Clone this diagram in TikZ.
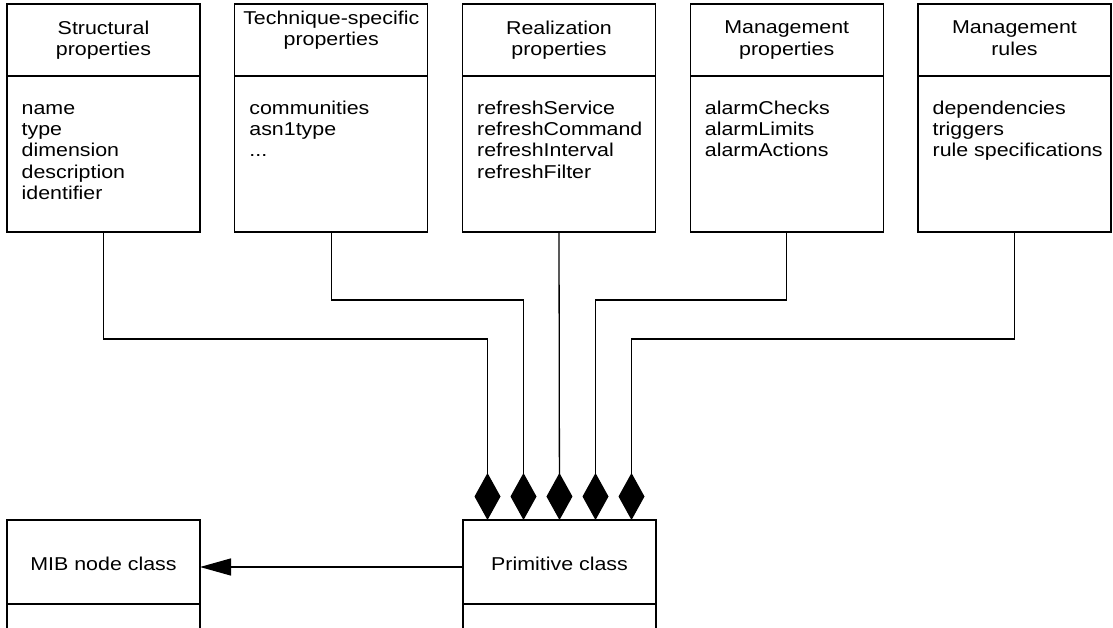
\documentclass[tikz,border=0pt]{standalone}
\usepackage{fontspec}
\setmainfont{Liberation Sans}[FakeStretch=1.15]
\usetikzlibrary{positioning,arrows.meta,calc}
\newcommand{\classfont}{\fontsize{18.6}{21.4}\selectfont}
\tikzset{
head/.style={
draw,
minimum width=193pt,
minimum height=72pt,
inner sep=0pt,
outer sep=0pt,
text depth=4pt,
align=center,
font=\classfont
},
body/.style={
draw,
minimum width=193pt,
minimum height=156pt,
inner sep=0pt,
outer sep=0pt
},
items/.style={
anchor=north west,
xshift=14pt,
yshift=-24pt,
inner sep=0pt,
align=left,
font=\classfont
},
lowhead/.style={
head,
text depth=0pt,
text height=17pt,
minimum height=84pt
},
lowbody/.style={
body,
minimum height=40pt
},
compose/.style={
-{Diamond[length=47pt,width=26pt]}
},
inherit/.style={
-{Triangle[length=31pt,width=17pt]}
}
}

\begin{document}
\begin{tikzpicture}[x=1pt,y=-1pt,line width=1.3pt]
\useasboundingbox (0,0) rectangle (1113,628);
\clip (0,0) rectangle (1113,628);

% top row of classes
\node[head](h1) at (103.5,40){Structural\\properties};
\node[head,text depth=24pt,right=34.75pt of h1](h2){Technique-specific\\properties};
\node[head,right=34.75pt of h2](h3){Realization\\properties};
\node[head,right=34.75pt of h3](h4){Management\\properties};
\node[head,right=34.75pt of h4](h5){Management\\rules};

\foreach \x in {1,...,5}
\node[body,below=0pt of h\x](b\x){};

\node[items] at (b1.north west){\rule{0pt}{13.4pt}name\\type\\dimension\\description\\identifier};
\node[items] at (b2.north west){communities\\asn1type\\...};
\node[items] at (b3.north west){refreshService\\refreshCommand\\refreshInterval\\refreshFilter};
\node[items] at (b4.north west){alarmChecks\\alarmLimits\\alarmActions};
\node[items] at (b5.north west){dependencies\\triggers\\rule specifications};

% bottom row
\node[lowhead](prim) at (559.5,562){Primitive class};
\node[lowbody,below=0pt of prim](primb){};
\node[lowhead,left=263pt of prim](mib){MIB node class};
\node[lowbody,below=0pt of mib](mibb){};

% aggregation lines
\foreach \b/\d/\s in {b1/107/-72,b2/68/-36,b4/68/36,b5/107/72}
\draw[compose](\b.south)--++(0,\d)-|($(prim.north)+(\s,0)$);
\draw[compose](b3.south)--(prim.north);

\draw[inherit]([yshift=-5pt]prim.west)--([yshift=-5pt]mib.east);
\end{tikzpicture}
\end{document}
